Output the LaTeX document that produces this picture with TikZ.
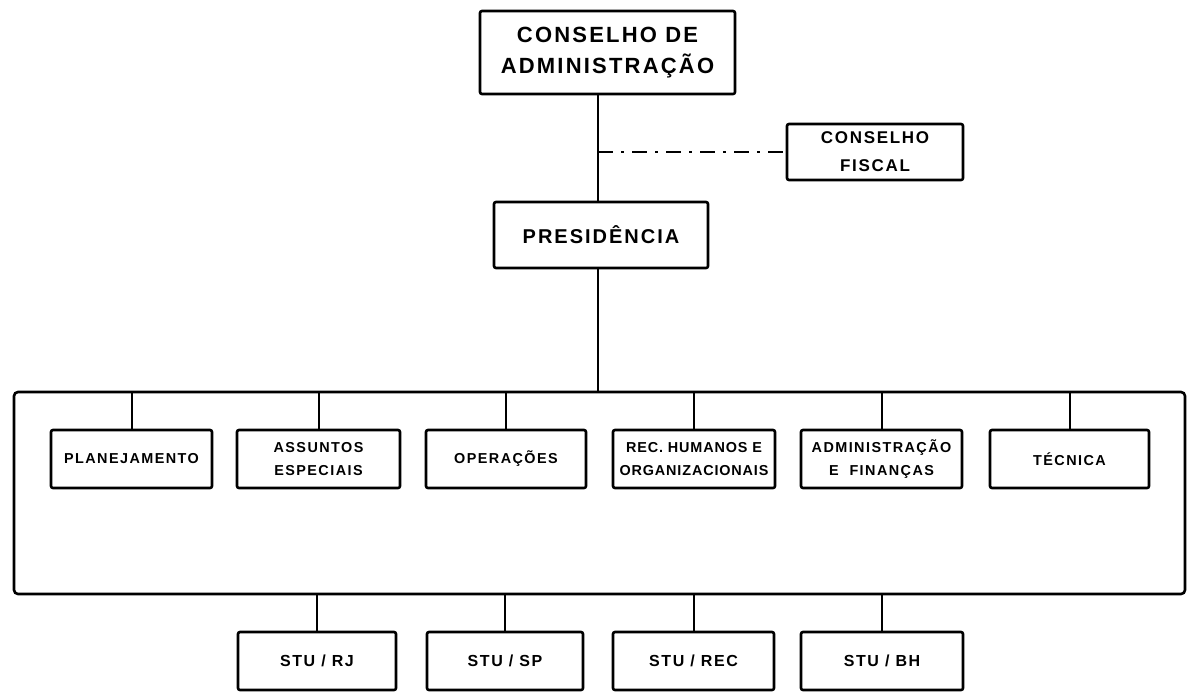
\documentclass[tikz,border=0pt]{standalone}
\usepackage{fontspec}
\setmainfont{Liberation Sans}
\newfontfamily\orgfont[LetterSpace=10]{Liberation Sans}
\newfontfamily\orgfontn[LetterSpace=6]{Liberation Sans}
\begin{document}
\begin{tikzpicture}[x=0.5pt,y=-0.5pt,
  box/.style={draw, line width=1.3pt, rounded corners=1pt, inner sep=0pt, align=center, fill=white},
  topbox/.style={box, font=\orgfont\bfseries\fontsize{11}{15.5}\selectfont},
  cfbox/.style={box, font=\orgfont\bfseries\fontsize{8.5}{14}\selectfont},
  presbox/.style={box, font=\orgfont\bfseries\fontsize{10}{12}\selectfont},
  subbox/.style={box, minimum height=29pt, font=\orgfont\bfseries\fontsize{7.2}{11.5}\selectfont},
  subboxn/.style={box, minimum height=29pt, font=\orgfontn\bfseries\fontsize{7.2}{11.5}\selectfont},
  stubox/.style={box, minimum height=29pt, font=\orgfont\bfseries\fontsize{8}{10}\selectfont},
  frame/.style={draw, line width=1.3pt, rounded corners=2pt, inner sep=0pt},
  conn/.style={line width=1pt},
  dashdotline/.style={line width=1pt, dash pattern=on 7.5pt off 4pt on 1.5pt off 4pt}]
\useasboundingbox (0,0) rectangle (1187,692);
% top
\node[topbox, minimum width=127.5pt, minimum height=41.5pt] (ca) at (607.5,52.5) {CONSELHO DE\\ADMINISTRAÇÃO};
\node[cfbox, minimum width=88pt, minimum height=28pt] (cf) at (875,152) {CONSELHO\\FISCAL};
\node[presbox, minimum width=107pt, minimum height=33pt] (pres) at (601,235) {PRESIDÊNCIA};
% group frame
\node[frame, minimum width=585.5pt, minimum height=101pt] (grupo) at (599.5,493) {};
% departments
\node[subbox, minimum width=80.5pt] (plan) at (131.5,459) {PLANEJAMENTO};
\node[subbox, minimum width=81.5pt] (assu) at (318.5,459) {ASSUNTOS\\ESPECIAIS};
\node[subbox, minimum width=80pt] (oper) at (506,459) {OPERAÇÕES};
\node[subboxn, minimum width=81pt] (rech) at (694,459) {REC. HUMANOS E\\ORGANIZACIONAIS};
\node[subbox, minimum width=80.5pt] (admf) at (881.5,459) {ADMINISTRAÇÃO\\E \ FINANÇAS};
\node[subbox, minimum width=79.5pt] (tecn) at (1069.5,459) {TÉCNICA};
% regional units
\node[stubox, minimum width=79pt] (rj) at (317,661) {STU / RJ};
\node[stubox, minimum width=78pt] (sp) at (505,661) {STU / SP};
\node[stubox, minimum width=80.5pt] (rec) at (693.5,661) {STU / REC};
\node[stubox, minimum width=81pt] (bh) at (882,661) {STU / BH};
% connectors
\draw[conn] ([xshift=-1.5pt]pres.north) -- ([xshift=-1.5pt]pres.north |- ca.south);
\draw[conn] ([xshift=-1.5pt]pres.south) -- ([xshift=-1.5pt]pres.south |- grupo.north);
\coordinate (j) at ([xshift=-1.5pt]pres.north |- cf.west);
\draw[dashdotline] (j) -- (cf.west);
\foreach \n in {plan,assu,oper,rech,admf,tecn}
  \draw[conn] (\n.north) -- (\n.north |- grupo.north);
\foreach \n in {rj,sp,rec,bh}
  \draw[conn] (\n.north) -- (\n.north |- grupo.south);
\end{tikzpicture}
\end{document}
